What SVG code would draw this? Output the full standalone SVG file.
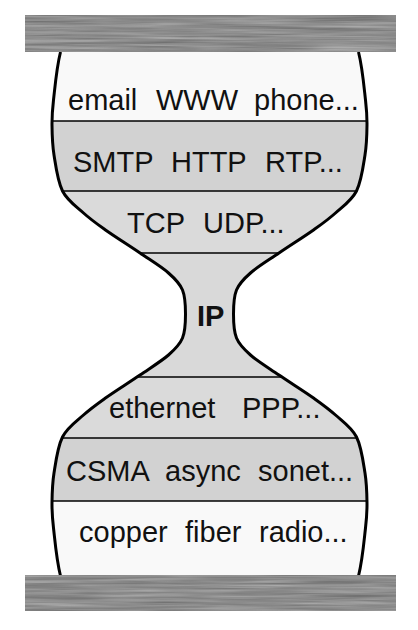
<svg xmlns="http://www.w3.org/2000/svg" xmlns:xlink="http://www.w3.org/1999/xlink" width="418" height="630" viewBox="0 0 418 630">
  <style>
    .lbl { font-family: "Liberation Sans", Arial, sans-serif; font-size: 29px; fill: #111; }
    .ip { font-family: "Liberation Sans", Arial, sans-serif; font-size: 29px; font-weight: bold; fill: #111; }
    .outline { fill: none; stroke: #000; stroke-width: 3; }
    .sep { stroke: #000; stroke-width: 1.4; }
    .bar { fill: #888; filter: url(#wood); }
  </style>
  <defs>
    <path id="edge" d="M358.5,52 C362.5,68 364.1,87.8 365.5,100 C366.9,112.2 367.1,115.8 367,125 C366.9,134.2 366.75,144 365,155 C363.25,166 361.4,181.3 356.5,191 C351.6,200.7 342.7,206.5 335.5,213 C328.3,219.5 322.9,223.3 313.5,230 C304.1,236.7 289.5,245.8 279,253 C268.5,260.2 257.6,266.8 250.5,273 C243.4,279.2 239.3,283.2 236.5,290 C233.7,296.8 233.5,306 233.5,314 C233.5,322 233.7,331.2 236.5,338 C239.3,344.8 243.4,348.8 250.5,355 C257.6,361.2 268.5,367.8 279,375 C289.5,382.2 304.1,391.3 313.5,398 C322.9,404.7 328.3,408.5 335.5,415 C342.7,421.5 351.6,427.3 356.5,437 C361.4,446.7 363.25,462 365,473 C366.75,484 366.9,493.8 367,503 C367.1,512.2 366.9,515.8 365.5,528 C364.1,540.2 362.5,560 358.5,576"/>
    <path id="half" d="M358.5,52 C362.5,68 364.1,87.8 365.5,100 C366.9,112.2 367.1,115.8 367,125 C366.9,134.2 366.75,144 365,155 C363.25,166 361.4,181.3 356.5,191 C351.6,200.7 342.7,206.5 335.5,213 C328.3,219.5 322.9,223.3 313.5,230 C304.1,236.7 289.5,245.8 279,253 C268.5,260.2 257.6,266.8 250.5,273 C243.4,279.2 239.3,283.2 236.5,290 C233.7,296.8 233.5,306 233.5,314 C233.5,322 233.7,331.2 236.5,338 C239.3,344.8 243.4,348.8 250.5,355 C257.6,361.2 268.5,367.8 279,375 C289.5,382.2 304.1,391.3 313.5,398 C322.9,404.7 328.3,408.5 335.5,415 C342.7,421.5 351.6,427.3 356.5,437 C361.4,446.7 363.25,462 365,473 C366.75,484 366.9,493.8 367,503 C367.1,512.2 366.9,515.8 365.5,528 C364.1,540.2 362.5,560 358.5,576 L200,576 L200,52 Z"/>
    <clipPath id="hg">
      <use xlink:href="#half" href="#half"/>
      <use xlink:href="#half" href="#half" transform="matrix(-1 0 0 1 419 0)"/>
    </clipPath>
    <filter id="wood" x="0" y="0" width="100%" height="100%" color-interpolation-filters="sRGB">
      <feTurbulence type="fractalNoise" baseFrequency="0.01 0.4" numOctaves="3" seed="4" result="t"/>
      <feColorMatrix in="t" type="matrix" values="0.28 0.14 0 0 0.34  0.28 0.14 0 0 0.34  0.28 0.14 0 0 0.34  0 0 0 0 1" result="g"/>
      <feComposite in="g" in2="SourceGraphic" operator="in"/>
    </filter>
  </defs>

  <rect width="418" height="630" fill="#fff"/>

  <g id="hourglass-bands" clip-path="url(#hg)">
    <rect x="0" y="40" width="418" height="81" fill="#f9f9f9"/>
    <rect x="0" y="121" width="418" height="70" fill="#d2d2d2"/>
    <rect x="0" y="191" width="418" height="62" fill="#dadada"/>
    <rect x="0" y="253" width="418" height="124" fill="#d9d9d9"/>
    <rect x="0" y="377" width="418" height="61" fill="#dadada"/>
    <rect x="0" y="438" width="418" height="63" fill="#d2d2d2"/>
    <rect x="0" y="501" width="418" height="90" fill="#f9f9f9"/>
    <line class="sep" x1="0" y1="121" x2="418" y2="121"/>
    <line class="sep" x1="0" y1="191" x2="418" y2="191"/>
    <line class="sep" x1="0" y1="253" x2="418" y2="253"/>
    <line class="sep" x1="0" y1="377" x2="418" y2="377"/>
    <line class="sep" x1="0" y1="438" x2="418" y2="438"/>
    <line class="sep" x1="0" y1="501" x2="418" y2="501"/>
  </g>

  <g id="outline">
    <use xlink:href="#edge" href="#edge" class="outline"/>
    <use xlink:href="#edge" href="#edge" class="outline" transform="matrix(-1 0 0 1 419 0)"/>
  </g>

  <g id="layer-application">
    <text class="lbl" y="110"><tspan x="68">email</tspan><tspan x="156">WWW</tspan><tspan x="254">phone...</tspan></text>
  </g>
  <g id="layer-app-protocols">
    <text class="lbl" y="172"><tspan x="73">SMTP</tspan><tspan x="171">HTTP</tspan><tspan x="265">RTP...</tspan></text>
  </g>
  <g id="layer-transport">
    <text class="lbl" y="233"><tspan x="127">TCP</tspan><tspan x="203">UDP...</tspan></text>
  </g>
  <g id="layer-ip">
    <text class="ip" x="197" y="326">IP</text>
  </g>
  <g id="layer-link">
    <text class="lbl" y="418"><tspan x="109">ethernet</tspan><tspan x="242">PPP...</tspan></text>
  </g>
  <g id="layer-mac">
    <text class="lbl" y="481"><tspan x="66">CSMA</tspan><tspan x="165">async</tspan><tspan x="258">sonet...</tspan></text>
  </g>
  <g id="layer-physical">
    <text class="lbl" y="542"><tspan x="79">copper</tspan><tspan x="185">fiber</tspan><tspan x="259">radio...</tspan></text>
  </g>

  <g id="top-bar">
    <rect class="bar" x="25" y="15" width="371" height="37"/>
  </g>
  <g id="bottom-bar">
    <rect class="bar" x="25" y="575" width="371" height="36"/>
  </g>
</svg>
